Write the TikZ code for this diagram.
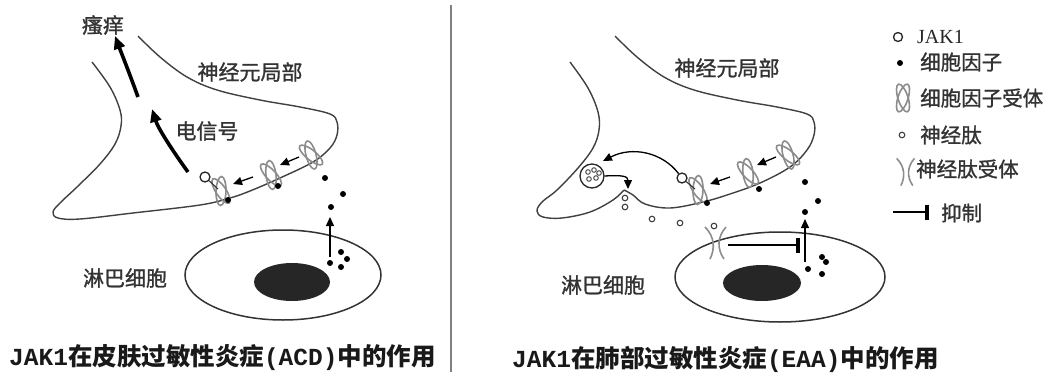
\documentclass[tikz,border=0pt]{standalone}
\usepackage{fontspec}
\newfontfamily\cjk{Noto Sans CJK SC}[FakeBold=1.2]
\newfontfamily\cjkcap{Noto Sans CJK SC}
\newfontfamily\capmono{Liberation Mono}
\newfontfamily\legserif{Liberation Serif}
\usetikzlibrary{arrows.meta}

\begin{document}
\begin{tikzpicture}[x=1pt,y=-1pt,
  membrane/.style={draw=black!75, line width=1.4pt},
  cellline/.style={draw=black!80, line width=1.5pt},
  label/.style={font=\cjk\fontsize{21}{21}\selectfont, text=black!80, inner sep=0pt},
  legtext/.style={font=\cjk\fontsize{20.5}{21}\selectfont, text=black!80, inner sep=0pt, anchor=west},
  captext/.style={font=\bfseries\fontsize{24.5}{25}\selectfont, text=black!90, inner sep=0pt, anchor=west},
  signal/.style={line width=3.6pt, -{Triangle[length=13pt,width=11pt]}},
  thinarrow/.style={line width=1.3pt, -{Triangle[length=9pt,width=8pt]}},
  cytokine/.style={fill=black, draw=none},
  jakring/.style={draw=black!85, line width=1.3pt, fill=white},
  peptide/.style={draw=black!75, line width=1.1pt},
  recline/.style={draw=black!45, line width=1.6pt},
  inhibit/.style={line width=1.4pt, -{Bar[width=15pt,line width=4pt]}},
  cytorec/.pic={
    \draw[recline, rotate=18] (0,0) ellipse [x radius=5pt, y radius=14.5pt];
    \draw[recline, rotate=-18] (0,0) ellipse [x radius=5pt, y radius=14.5pt];
  },
  peprec/.pic={
    \draw[recline] (-11,-16) .. controls (-1,-6) and (-1,6) .. (-6,16);
    \draw[recline] (10,-16) .. controls (1,-6) and (1,6) .. (8,16);
  },
]
\useasboundingbox (0,0) rectangle (1058,375);

% divider between the two panels
\draw[draw=black!50, line width=1.5pt] (451,5) -- (451,372);

% ================= left panel: skin (ACD) =================
% nerve ending outline
\draw[membrane] plot[smooth, tension=0.6] coordinates {
  (92,62) (110,87) (120,110) (121,126) (115,144) (100,164) (77,187) (60,203)
  (53,212) (58,218) (80,219) (133,213) (200,205) (230,198) (250,191) (280,178)
  (313,162) (330,148) (337,135) (337,122) (330,114) (300,107) (260,100)
  (217,90) (187,77) (160,57) (138,36)};

% lymphocyte
\draw[cellline] (283,275) ellipse [x radius=98pt, y radius=45pt];
\fill[black!85] (292,282) ellipse [x radius=38pt, y radius=19pt];

% cytokine receptors on the membrane
\pic[rotate=16] at (221,191) {cytorec};
\pic[rotate=25] at (271,175) {cytorec};
\pic[rotate=33] at (311,155) {cytorec};

% JAK1 bound to the first receptor
\node[jakring, circle, minimum size=10pt, inner sep=0pt] (jakL) at (205,177) {};
\coordinate (recL) at (218,189);
\draw[line width=1.1pt, draw=black!80] (jakL) -- (recL);

% signalling along the membrane
\coordinate (mA1) at (299,157); \coordinate (mA2) at (280,165);
\coordinate (mB1) at (253,177); \coordinate (mB2) at (233,184);
\draw[thinarrow] (mA1) -- (mA2);
\draw[thinarrow] (mB1) -- (mB2);

% cytokines
\foreach \p in {(228,200),(278,186),(325,178),(343,194),(331,207),
                (341,252),(347,259),(330,263),(341,267)}
  \fill[cytokine] \p circle (3pt);

% release from the lymphocyte
\coordinate (relL1) at (330,257); \coordinate (relL2) at (330,217);
\draw[thinarrow] (relL1) -- (relL2);

% electrical signal to the brain
\coordinate (sg1a) at (188,172); \coordinate (sg1b) at (152,109);
\coordinate (sg2a) at (138,97);  \coordinate (sg2b) at (115,36);
\draw[signal] (sg1a) .. controls (172,150) and (158,128) .. (sg1b);
\draw[signal] (sg2a) .. controls (129,72) and (121,52) .. (sg2b);

\node[label] (itch) at (103,25) {瘙痒};
\node[label] (neuL) at (250,72) {神经元局部};
\node[label] (elec) at (207,131) {电信号};
\node[label] (lymL) at (125,278) {淋巴细胞};

\node[captext] (capL) at (9,358)
  {{\capmono JAK1}{\cjkcap 在皮肤过敏性炎症}{\capmono (ACD)}{\cjkcap 中的作用}};

% ================= right panel: lung (EAA) =================
\draw[membrane] plot[smooth, tension=0.6] coordinates {
  (570,62) (588,88) (598,112) (599,130) (593,148) (578,168) (557,190) (542,202)
  (537,211) (543,217) (562,218) (590,212) (613,200) (624,190)};
\draw[membrane] plot[smooth, tension=0.6] coordinates {
  (624,190) (633,195) (645,204) (670,208) (703,202) (730,194) (760,183)
  (790,167) (807,150) (814,135) (814,122) (807,114) (777,107) (737,100)
  (694,90) (664,77) (637,57) (615,36)};

% lymphocyte
\draw[cellline] (780,277) ellipse [x radius=105pt, y radius=45pt];
\fill[black!85] (762,283) ellipse [x radius=39pt, y radius=18pt];

% cytokine receptors
\pic[rotate=16] at (698,190) {cytorec};
\pic[rotate=25] at (748,173) {cytorec};
\pic[rotate=33] at (788,155) {cytorec};

% JAK1
\node[jakring, circle, minimum size=10pt, inner sep=0pt] (jakR) at (682,178) {};
\coordinate (recR) at (695,189);
\draw[line width=1.1pt, draw=black!80] (jakR) -- (recR);

\coordinate (nA1) at (776,157); \coordinate (nA2) at (757,165);
\coordinate (nB1) at (730,177); \coordinate (nB2) at (710,184);
\draw[thinarrow] (nA1) -- (nA2);
\draw[thinarrow] (nB1) -- (nB2);

% cytokines
\foreach \p in {(707,203),(759,189),(805,182),(818,201),(805,212),
                (822,257),(826,262),(808,269),(822,274)}
  \fill[cytokine] \p circle (3pt);

\coordinate (relR1) at (805,262); \coordinate (relR2) at (805,219);
\draw[thinarrow] (relR1) -- (relR2);

% neuropeptide vesicle and its release
\node[draw=black!85, line width=1.3pt, circle, minimum size=24pt, inner sep=0pt] (ves) at (592,176) {};
\foreach \p in {(588,172),(594,170),(589,179),(596,178),(599,173)}
  \draw[peptide, line width=0.9pt] \p circle (2.3pt);
\coordinate (vesIn) at (603,161);
\draw[thinarrow] (jakR) .. controls (662,152) and (632,146) .. (vesIn);
\coordinate (notch) at (628,189);
\draw[thinarrow] (ves.east) .. controls (622,175) and (628,176) .. (notch);

% released neuropeptides
\foreach \p in {(625,198),(625,207),(652,219),(680,223),(714,226)}
  \draw[peptide] \p circle (2.8pt);

% neuropeptide receptor on the lymphocyte and inhibition
\pic at (716,243) {peprec};
\coordinate (inh1) at (728,245); \coordinate (inh2) at (800,245);
\draw[inhibit] (inh1) -- (inh2);

\node[label] (neuR) at (727,68) {神经元局部};
\node[label] (lymR) at (603,285) {淋巴细胞};

\node[captext] (capR) at (512,359)
  {{\capmono JAK1}{\cjkcap 在肺部过敏性炎症}{\capmono (EAA)}{\cjkcap 中的作用}};

% ================= legend =================
\node[jakring, circle, minimum size=9pt, inner sep=0pt] (legJak) at (898,37) {};
\node[inner sep=0pt, anchor=west, font=\legserif\fontsize{20}{20}\selectfont, text=black!85] (legJakT) at (917,37) {JAK1};

\fill[cytokine] (900,63) circle (3pt);
\node[legtext] (legCyt) at (920,62) {细胞因子};

\pic at (903,98) {cytorec};
\node[legtext] (legRec) at (920,98) {细胞因子受体};

\draw[peptide] (902,135) circle (2.8pt);
\node[legtext] (legPep) at (920,135) {神经肽};

\pic[scale=0.85] at (906,172) {peprec};
\node[legtext] (legPR) at (916,169) {神经肽受体};

\coordinate (legI1) at (893,212); \coordinate (legI2) at (929,212);
\draw[inhibit] (legI1) -- (legI2);
\node[legtext] (legInh) at (941,213) {抑制};

\end{tikzpicture}
\end{document}
